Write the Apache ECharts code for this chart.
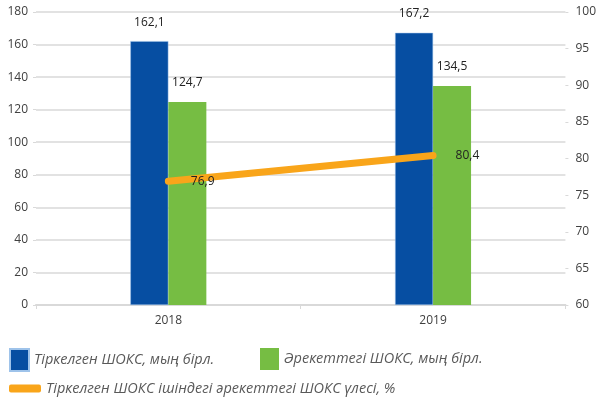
<!DOCTYPE html>
<html><head><meta charset="utf-8">
<script src="https://cdn.jsdelivr.net/npm/echarts@6/dist/echarts.min.js"></script>
<style>html,body{margin:0;padding:0;background:#fff}#c{width:599px;height:400px}</style>
</head><body><div id="c"></div>
<script>
const categories = ['2018', '2019'];
const registered = [162.1, 167.2];
const active = [124.7, 134.5];
const share = [76.9, 80.4];
const leftTicks = {min: 0, max: 180, interval: 20};
const rightTicks = {min: 60, max: 100, interval: 5};
const names = ['Тіркелген ШОКС, мың бірл.', 'Әрекеттегі ШОКС, мың бірл.', 'Тіркелген ШОКС ішіндегі әрекеттегі ШОКС үлесі, %'];

const fmt = v => String(v.value !== undefined ? v.value : v).replace('.', ',');
const chart = echarts.init(document.getElementById('c'));
const legendText = {fontFamily: 'Open Sans', fontStyle: 'italic', fontSize: 14.5, color: '#595959'};
chart.setOption({
  animation: false,
  textStyle: {fontFamily: 'Open Sans'},
  grid: {left: 36, right: 32, top: 12, bottom: 95},
  legend: [
    {data: [names[0]], left: 4, top: 343, itemWidth: 19, itemHeight: 22, itemGap: 10, textStyle: legendText, icon: 'rect'},
    {data: [names[1]], left: 255, top: 343, itemWidth: 19, itemHeight: 22, textStyle: legendText, icon: 'rect'},
    {data: [names[2]], left: 4, top: 376, itemWidth: 32, itemHeight: 8, textStyle: legendText, icon: 'roundRect'}
  ],
  xAxis: {
    type: 'category', data: categories,
    axisLine: {lineStyle: {color: '#d9d9d9', width: 2}},
    axisTick: {show: true, length: 4, lineStyle: {color: '#d9d9d9'}},
    axisLabel: {color: '#404040', fontSize: 12, margin: 10}
  },
  yAxis: [
    {type: 'value', min: leftTicks.min, max: leftTicks.max, interval: leftTicks.interval,
     axisLine: {show: false}, axisTick: {show: true, length: 3, lineStyle: {color: '#d9d9d9'}},
     splitLine: {lineStyle: {color: '#d9d9d9', width: 1.5}},
     axisLabel: {color: '#404040', fontSize: 12, margin: 8}},
    {type: 'value', min: rightTicks.min, max: rightTicks.max, interval: rightTicks.interval, position: 'right',
     axisLine: {show: false}, axisTick: {show: true, length: 3, lineStyle: {color: '#d9d9d9'}},
     splitLine: {show: false},
     axisLabel: {color: '#404040', fontSize: 12, margin: 10}}
  ],
  series: [
    {name: names[0], type: 'bar', data: registered, barWidth: 38, barGap: '0%',
     itemStyle: {color: '#064ea2', borderColor: '#9ec3ea', borderWidth: 0.5},
     label: {show: true, position: 'top', distance: 13, color: '#222', fontSize: 12, formatter: fmt}},
    {name: names[1], type: 'bar', data: active, barWidth: 38,
     itemStyle: {color: '#76bd43'},
     label: {show: true, position: 'top', distance: 13, color: '#222', fontSize: 12, formatter: fmt}},
    {name: names[2], type: 'line', yAxisIndex: 1, data: share, symbol: 'circle', symbolSize: 1, showSymbol: true,
     lineStyle: {color: '#f9a51a', width: 7, cap: 'round'}, itemStyle: {color: '#f9a51a'},
     label: {show: true, position: 'right', distance: 22, color: '#222', fontSize: 12, formatter: fmt}}
  ]
});
</script></body></html>
